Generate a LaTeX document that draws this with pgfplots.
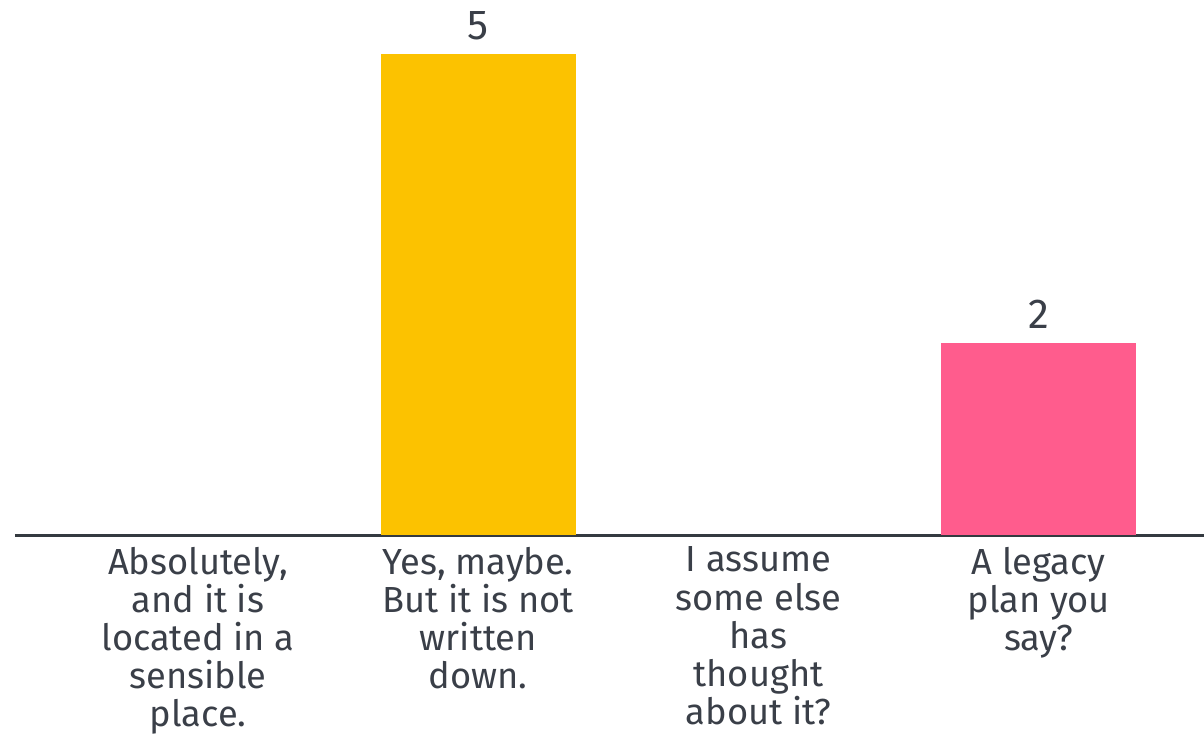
\documentclass[border=0pt]{standalone}
\usepackage{pgfplots}
\pgfplotsset{compat=1.18}
\usepackage{fontspec}
\setmainfont{Fira Sans}
\definecolor{barY}{HTML}{FCC200}
\definecolor{barP}{HTML}{FF5C8D}
\definecolor{axisC}{HTML}{343A40}
\definecolor{txtC}{HTML}{3A3F48}
\begin{document}
\begin{tikzpicture}
\useasboundingbox (0,0) rectangle (602bp,368.5bp);
\begin{axis}[
  at={(99bp,101bp)}, anchor=origin,
  x=140.125bp, y=48.1bp,
  xmin=-0.653, xmax=3.59, ymin=0, ymax=5.6,
  scale only axis,
  /pgf/number format/assume math mode=true,
  axis x line=bottom, axis y line=none,
  axis line style={axisC, line width=1.5bp, -},
  ybar, bar width=97.5bp, bar shift=0pt,
  xtick={0,1,2,3}, ytick=\empty,
  major tick length=0pt,
  xticklabels={{Absolutely,\\and it is\\located in a\\sensible\\place.},
               {Yes, maybe.\\But it is not\\written\\down.},
               {I assume\\some else\\has\\thought\\about it?},
               {A legacy\\plan you\\say?}},
  xticklabel style={align=center, text=txtC, font=\fontsize{18.2}{19.1}\selectfont, inner sep=0pt, yshift=-5.8bp},
  nodes near coords,
  nodes near coords style={text=txtC, font=\fontsize{21}{23}\selectfont, inner sep=0pt, yshift=7bp, anchor=south},
  clip=false,
]
\addplot[draw=none, fill=none, nodes near coords={}] coordinates {(0,0) (2,0)};
\addplot[draw=none, fill=barY] coordinates {(1,5)};
\addplot[draw=none, fill=barP] coordinates {(3,2)};
\end{axis}
\end{tikzpicture}
\end{document}
